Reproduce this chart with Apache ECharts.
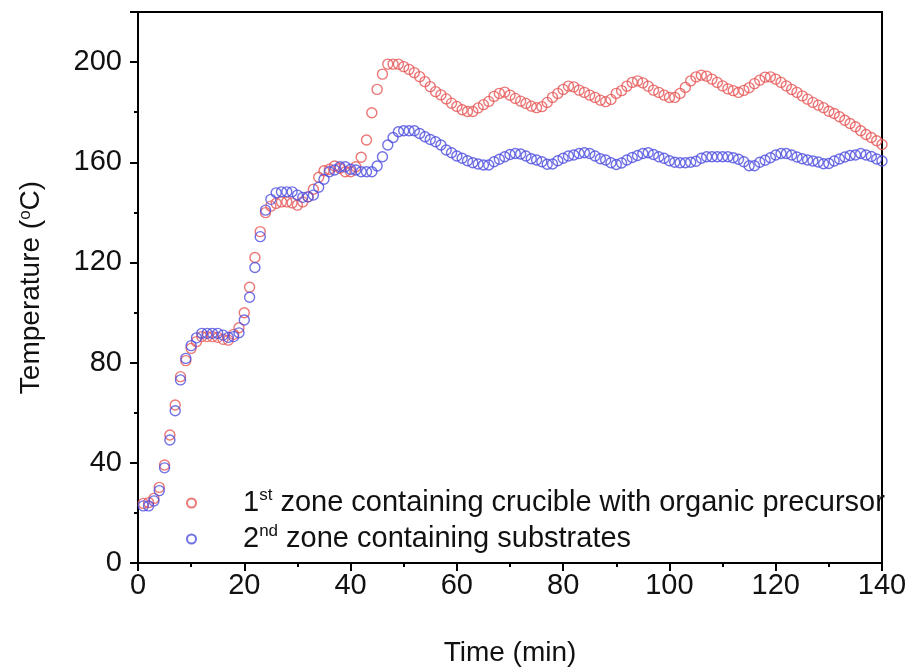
<!DOCTYPE html>
<html>
<head>
<meta charset="utf-8">
<script src="https://cdn.jsdelivr.net/npm/echarts@6/dist/echarts.min.js"></script>
<style>
html, body { margin: 0; padding: 0; background: #fff; }
#chart { width: 911px; height: 669px; }
</style>
</head>
<body>
<div id="chart"></div>
<script>
// time in minutes, one reading per minute
const minutes = [
  1, 2, 3, 4, 5, 6, 7, 8, 9, 10, 11, 12, 13, 14, 15, 16, 17, 18, 19, 20,
  21, 22, 23, 24, 25, 26, 27, 28, 29, 30, 31, 32, 33, 34, 35, 36, 37, 38, 39, 40,
  41, 42, 43, 44, 45, 46, 47, 48, 49, 50, 51, 52, 53, 54, 55, 56, 57, 58, 59, 60,
  61, 62, 63, 64, 65, 66, 67, 68, 69, 70, 71, 72, 73, 74, 75, 76, 77, 78, 79, 80,
  81, 82, 83, 84, 85, 86, 87, 88, 89, 90, 91, 92, 93, 94, 95, 96, 97, 98, 99, 100,
  101, 102, 103, 104, 105, 106, 107, 108, 109, 110, 111, 112, 113, 114, 115, 116, 117, 118, 119, 120,
  121, 122, 123, 124, 125, 126, 127, 128, 129, 130, 131, 132, 133, 134, 135, 136, 137, 138, 139, 140
];

// 1st zone (crucible with organic precursor), degC
const zone1 = [
  23.8, 24.1, 25.8, 30.2, 39.1, 51.1, 63.1, 74.4, 80.8, 85.7,
  88.4, 90.4, 90.4, 90.4, 90.1, 89.3, 89.0, 91.3, 93.9, 99.9,
  110.1, 122.0, 132.3, 139.9, 142.5, 143.6, 144.2, 144.2, 143.8, 142.9,
  144.2, 146.2, 149.2, 154.0, 156.6, 157.2, 158.5, 157.6, 156.2, 156.2,
  158.2, 162.0, 168.9, 179.8, 189.1, 195.2, 199.2, 199.2, 199.2, 198.2,
  197.1, 195.8, 194.2, 192.2, 190.2, 188.2, 186.9, 185.3, 183.6, 182.3,
  181.0, 180.3, 180.3, 181.7, 183.0, 184.3, 186.3, 187.5, 188.0, 186.8,
  185.5, 184.4, 183.5, 182.4, 181.8, 182.2, 183.9, 185.9, 187.5, 189.1,
  190.4, 190.1, 188.8, 187.9, 186.8, 185.9, 184.8, 184.2, 185.1, 187.5,
  188.6, 190.4, 191.9, 192.5, 191.7, 190.4, 188.8, 187.9, 186.8, 185.9,
  185.9, 187.5, 189.9, 192.5, 194.1, 194.8, 194.4, 193.2, 191.9, 190.5,
  189.3, 188.6, 187.9, 188.7, 189.8, 191.4, 192.8, 194.0, 194.1, 193.2,
  191.9, 190.5, 189.1, 187.9, 186.5, 185.2, 183.9, 182.8, 181.8, 180.4,
  179.5, 178.2, 176.8, 175.5, 174.2, 172.6, 171.1, 169.9, 168.6, 167.1
];

// 2nd zone (substrates), degC
const zone2 = [
  22.8, 22.8, 24.8, 28.9, 38.0, 49.1, 60.8, 73.1, 81.7, 86.8,
  89.9, 91.7, 91.7, 91.7, 91.7, 91.0, 90.1, 90.4, 91.9, 97.0,
  106.1, 118.0, 130.3, 140.9, 145.2, 147.8, 148.2, 148.2, 148.2, 146.9,
  146.0, 146.2, 146.9, 150.0, 153.2, 156.2, 156.9, 158.2, 158.2, 157.2,
  156.9, 156.2, 156.2, 156.2, 158.5, 162.2, 166.9, 169.9, 172.2, 172.6,
  172.6, 172.6, 171.5, 170.2, 169.1, 168.2, 166.9, 164.9, 163.8, 162.5,
  161.6, 160.6, 159.8, 159.3, 158.9, 158.9, 160.2, 161.2, 162.2, 163.1,
  163.5, 163.3, 162.5, 161.4, 160.9, 160.2, 159.2, 159.3, 160.6, 161.6,
  162.5, 162.9, 163.5, 163.8, 163.5, 162.5, 161.4, 160.9, 159.8, 159.1,
  159.7, 160.9, 161.9, 162.7, 163.5, 163.8, 163.1, 162.2, 161.6, 160.6,
  160.0, 159.8, 159.8, 160.0, 160.4, 161.6, 162.2, 162.2, 162.2, 162.2,
  162.2, 161.8, 161.2, 160.2, 158.6, 158.6, 160.0, 160.8, 161.8, 162.9,
  163.5, 163.5, 162.9, 162.1, 161.4, 160.9, 160.5, 160.1, 159.4, 159.5,
  160.5, 161.3, 162.1, 162.7, 162.9, 163.5, 162.9, 162.3, 161.3, 160.5
];

const seriesNames = [
  '1st zone containing crucible with organic precursor',
  '2nd zone containing substrates'
];
const legendLabels = [
  '{g| }1{s|st} zone containing crucible with organic precursor',
  '{g| }2{s|nd} zone containing substrates'
];

const FONT = '"Liberation Sans", Arial, sans-serif';
const RED = '#e65555';
const BLUE = '#4e4ee0';

let chart = echarts.init(document.getElementById('chart'));

const axisCommon = {
  axisLine: { lineStyle: { color: '#000', width: 2 } },
  axisTick: { length: 8, lineStyle: { color: '#000', width: 2 } },
  splitLine: { show: false },
  axisLabel: { color: '#111', fontSize: 29, fontFamily: FONT }
};

chart.setOption({
  animation: false,
  backgroundColor: '#fff',
  grid: {
    left: 138, right: 29, top: 12, bottom: 106,
    outerBoundsMode: 'none',
    show: true, borderColor: '#000', borderWidth: 2
  },
  xAxis: Object.assign({}, axisCommon, {
    type: 'value', min: 0, max: 140, interval: 20,
    minorTick: { show: true, splitNumber: 2, length: 4, lineStyle: { color: '#000', width: 2 } },
    axisLabel: Object.assign({}, axisCommon.axisLabel, { margin: 8 }),
    name: 'Time (min)',
    nameLocation: 'middle',
    nameGap: 76,
    nameTextStyle: { color: '#111', fontSize: 28, fontFamily: FONT }
  }),
  yAxis: [
    Object.assign({}, axisCommon, {
      type: 'value', min: 0, max: 220, interval: 40,
      axisLabel: Object.assign({}, axisCommon.axisLabel, {
        margin: 16,
        formatter: v => (v > 200 ? '' : String(v))
      }),
      name: 'Temperature ({s|o}C)',
      nameLocation: 'middle',
      nameGap: 93,
      nameTextStyle: {
        color: '#111', fontSize: 28, fontFamily: FONT,
        rich: {
          s: { color: '#111', fontSize: 17, fontFamily: FONT, verticalAlign: 'top', lineHeight: 14 }
        }
      }
    }),
    {
      // minor ticks every 20
      type: 'value', min: 0, max: 220, interval: 20, position: 'left',
      axisLine: { show: false },
      axisTick: { length: 4, lineStyle: { color: '#000', width: 2 } },
      axisLabel: { show: false },
      splitLine: { show: false }
    }
  ],
  legend: {
    orient: 'vertical',
    left: 181,
    top: 482,
    itemWidth: 9,
    itemHeight: 9,
    itemGap: 4,
    data: seriesNames.map(n => ({ name: n, icon: 'circle' })),
    formatter: name => legendLabels[seriesNames.indexOf(name)],
    textStyle: {
      color: '#111', fontSize: 29, fontFamily: FONT, lineHeight: 32,
      rich: {
        g: { width: 42 },
        s: { color: '#111', fontSize: 17, fontFamily: FONT, verticalAlign: 'top', lineHeight: 16 }
      }
    }
  },
  series: [
    {
      name: seriesNames[0],
      type: 'scatter',
      symbol: 'circle',
      symbolSize: 10,
      itemStyle: { color: 'rgba(255,255,255,0)', borderColor: RED, borderWidth: 1.4 },
      data: minutes.map((m, i) => [m, zone1[i]])
    },
    {
      name: seriesNames[1],
      type: 'scatter',
      symbol: 'circle',
      symbolSize: 10,
      itemStyle: { color: 'rgba(255,255,255,0)', borderColor: BLUE, borderWidth: 1.4 },
      data: minutes.map((m, i) => [m, zone2[i]])
    }
  ]
});
</script>
</body>
</html>
